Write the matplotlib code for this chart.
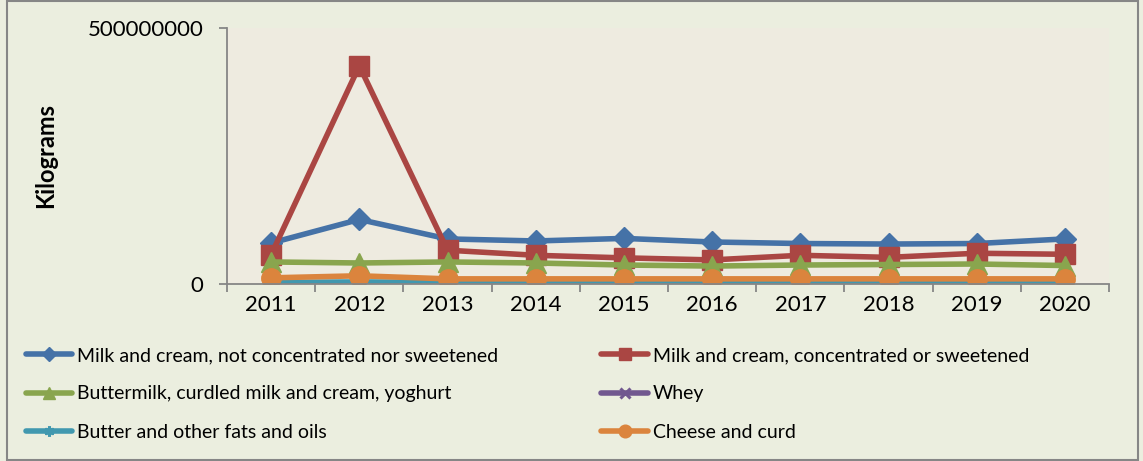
import matplotlib
matplotlib.use('Agg')
import matplotlib.pyplot as plt
from matplotlib.patches import Rectangle

plt.rcParams['font.family'] = ['Lato', 'DejaVu Sans']

# data (kilograms)
years = ['2011', '2012', '2013', '2014', '2015', '2016', '2017', '2018', '2019', '2020']
milk_not_conc = [80e6, 126e6, 88e6, 84e6, 89e6, 82e6, 79e6, 78e6, 79e6, 88e6]
milk_conc = [57e6, 426e6, 66e6, 56e6, 51e6, 47e6, 56e6, 52e6, 60e6, 58e6]
buttermilk = [43e6, 41e6, 43e6, 41e6, 37e6, 35e6, 37e6, 38e6, 39e6, 36e6]
whey = [1e6, 1.5e6, 1e6, 1e6, 1e6, 1e6, 1e6, 1e6, 1e6, 1e6]
butter = [3e6, 4e6, 3e6, 3e6, 3e6, 3e6, 3e6, 3e6, 3e6, 3e6]
cheese = [12e6, 16e6, 10e6, 10e6, 10e6, 10e6, 10e6, 10e6, 10e6, 10e6]

labels = ['Milk and cream, not concentrated nor sweetened',
          'Milk and cream, concentrated or sweetened',
          'Buttermilk, curdled milk and cream, yoghurt',
          'Whey',
          'Butter and other fats and oils',
          'Cheese and curd']
series = [milk_not_conc, milk_conc, buttermilk, whey, butter, cheese]
colors = ['#4572A7', '#AA4643', '#89A54E', '#71588F', '#4198AF', '#DB843D']
markers = ['D', 's', '^', 'x', (6, 2, 0), 'o']
msizes = [11, 14, 14, 11, 11, 14]

fig = plt.figure(figsize=(11.43, 4.61), dpi=100)
fig.patch.set_facecolor('#EBEEDF')
fig.patches.append(Rectangle((0.006, 0.003), 0.99, 0.994, transform=fig.transFigure,
                             fill=False, edgecolor='#868686', linewidth=1.5))

ax = fig.add_axes([0.1986, 0.384, 0.7717, 0.5553])
ax.set_facecolor('#EEEBE0')

x = list(range(len(years)))
handles = []
for vals, lab, c, m, ms in zip(series, labels, colors, markers, msizes):
    h, = ax.plot(x, vals, color=c, linewidth=4, marker=m, markersize=ms,
                 markeredgewidth=2.2 if m in ('x', (6, 2, 0)) else 1,
                 markeredgecolor=c, markerfacecolor=c, label=lab,
                 solid_capstyle='round', solid_joinstyle='round')
    handles.append(h)

ax.set_xlim(-0.5, len(years) - 0.5)
ax.set_ylim(0, 500000000)
ax.set_yticks([0, 500000000])
ax.set_yticklabels(['0', '500000000'])
ax.set_xticks(x)
ax.set_xticklabels(years)
ax.set_xticks([i - 0.5 for i in range(len(years) + 1)], minor=True)
ax.tick_params(axis='x', which='major', length=0, pad=8, labelsize=16)
ax.tick_params(axis='x', which='minor', length=6, color='#868686', width=1.3)
ax.tick_params(axis='y', length=6, color='#868686', width=1.3, pad=11, labelsize=16)

for side in ['top', 'right']:
    ax.spines[side].set_visible(False)
for side in ['left', 'bottom']:
    ax.spines[side].set_color('#868686')
    ax.spines[side].set_linewidth(1.3)

ax.set_ylabel('Kilograms', fontsize=17, fontweight='bold')
ax.yaxis.set_label_coords(-0.193, 0.5)

# legend: row-wise order in two columns
order = [0, 2, 4, 1, 3, 5]
leg = fig.legend([handles[i] for i in order], [labels[i] for i in order],
                 ncol=2, loc='upper left', bbox_to_anchor=(0.0156, 0.264),
                 frameon=False, fontsize=14, handlelength=2.4, handletextpad=0.25,
                 columnspacing=5.3, labelspacing=1.1, markerscale=0.65,
                 borderaxespad=0)

fig.savefig('out.png', dpi=100, facecolor=fig.get_facecolor())
